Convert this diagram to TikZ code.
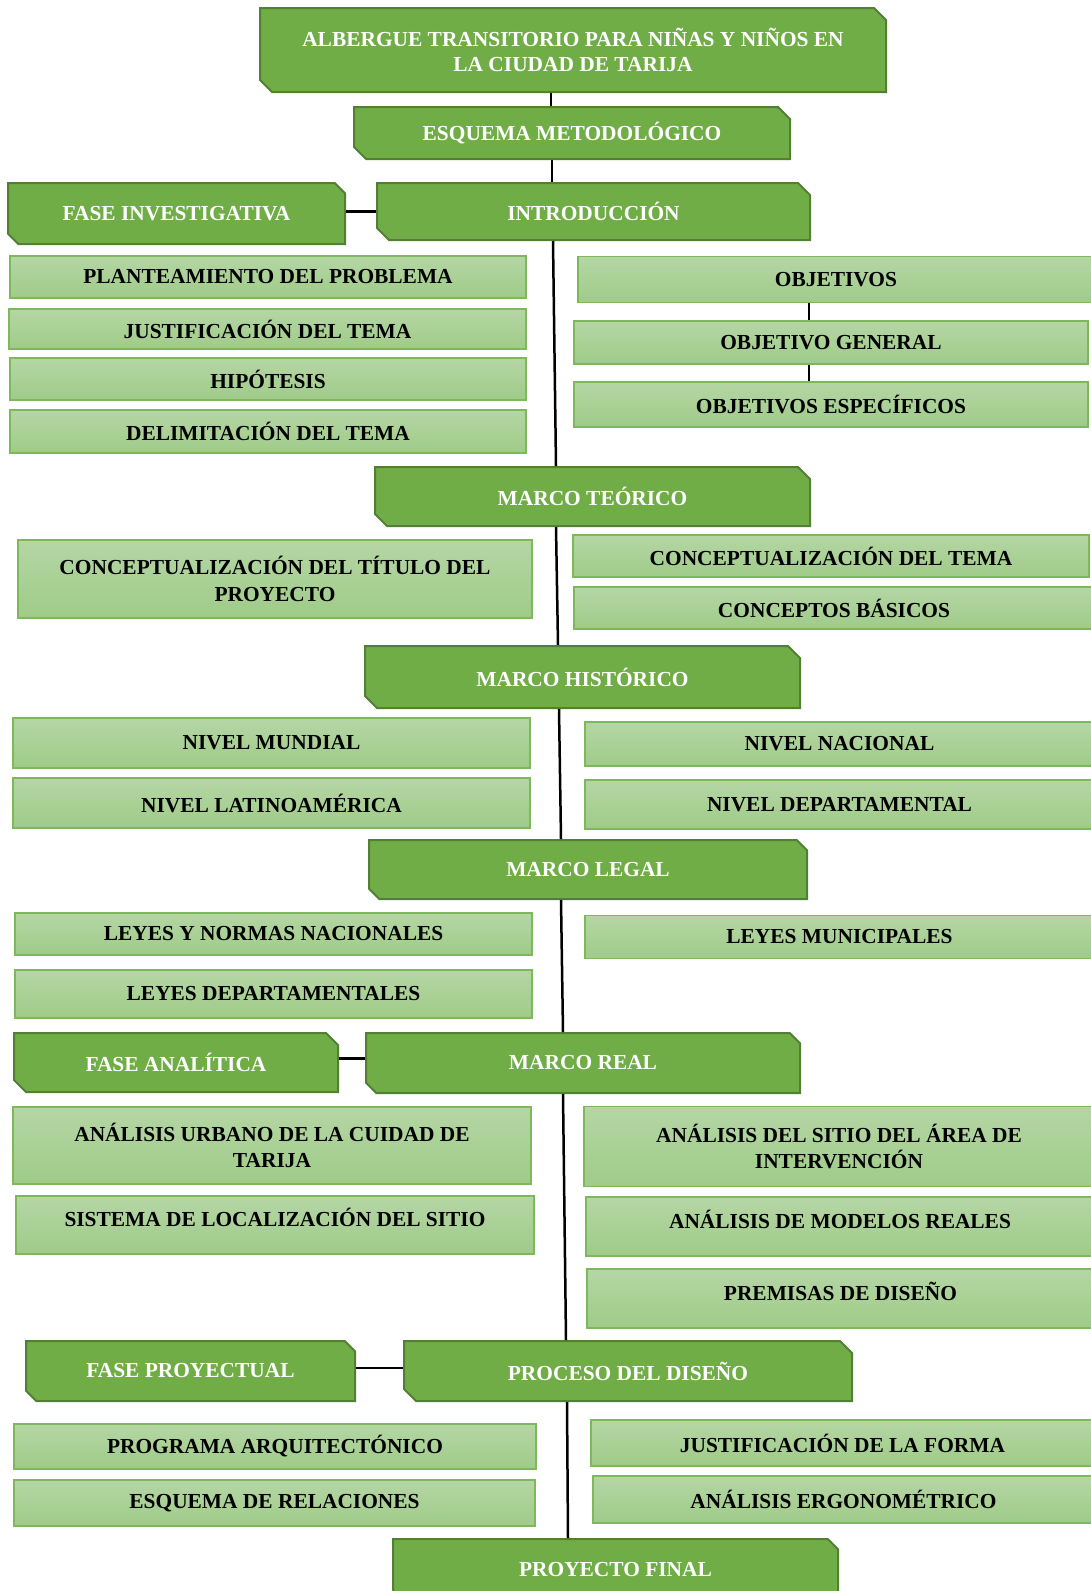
\documentclass[tikz,border=0pt]{standalone}
\usepackage{fontspec}
\setmainfont{Liberation Serif}
\usetikzlibrary{shapes.misc}

\definecolor{verde}{HTML}{70AD47}
\definecolor{verdeosc}{HTML}{517F33}
\definecolor{claroarr}{HTML}{B5D6A5}
\definecolor{claroab}{HTML}{9FCB88}
\definecolor{borde}{HTML}{7DB85B}

\tikzset{
	fase/.style={chamfered rectangle, chamfered rectangle corners={north east,south west},
		chamfered rectangle xsep=9pt, fill=verde, draw=verdeosc, line width=2pt,
		text=white, inner sep=0pt, align=center,
		font=\bfseries\fontsize{21.4}{25}\selectfont},
	tema/.style={rectangle, top color=claroarr, bottom color=claroab, draw=borde,
		line width=1.5pt, inner sep=0pt, align=center,
		font=\bfseries\fontsize{21.4}{26.5}\selectfont},
	linea/.style={line width=2.5pt, black}
}

\begin{document}
\begin{tikzpicture}[x=1pt, y=-1pt]
	\useasboundingbox (0,0) rectangle (1091,1591);

	% tronco
	\node[fase, minimum width=626pt, minimum height=84pt] (titulo) at (573,50) {ALBERGUE TRANSITORIO PARA NIÑAS Y NIÑOS EN\\LA CIUDAD DE TARIJA};
	\node[fase, minimum width=436pt, minimum height=52pt] (esquema) at (572,133) {ESQUEMA METODOLÓGICO};
	\node[fase, minimum width=337pt, minimum height=61pt] (finv) at (176.5,213.5) {FASE INVESTIGATIVA};
	\node[fase, minimum width=433pt, minimum height=57pt] (intro) at (593.5,211.5) {INTRODUCCIÓN};

	\node[tema, minimum width=516pt, minimum height=42pt] (plant) at (268,277) {PLANTEAMIENTO DEL PROBLEMA};
	\node[tema, minimum width=517pt, minimum height=40pt] (just) at (267.5,329) {JUSTIFICACIÓN DEL TEMA};
	\node[tema, minimum width=516pt, minimum height=42pt] (hipo) at (268,379) {HIPÓTESIS};
	\node[tema, minimum width=516pt, minimum height=43pt] (delim) at (268,431.5) {DELIMITACIÓN DEL TEMA};
	\node[tema, minimum width=516pt, minimum height=46pt] (obj) at (836,279.5) {OBJETIVOS};
	\node[tema, minimum width=514pt, minimum height=43pt] (objg) at (831,342.5) {OBJETIVO GENERAL};
	\node[tema, minimum width=514pt, minimum height=45pt] (obje) at (831,404.5) {OBJETIVOS ESPECÍFICOS};

	\node[fase, minimum width=435pt, minimum height=59pt] (teorico) at (592.5,496.5) {MARCO TEÓRICO};
	\node[tema, minimum width=514pt, minimum height=78pt] (ctitulo) at (275,579) {CONCEPTUALIZACIÓN DEL TÍTULO DEL\\PROYECTO};
	\node[tema, minimum width=516pt, minimum height=42pt] (ctema) at (831,556) {CONCEPTUALIZACIÓN DEL TEMA};
	\node[tema, minimum width=520pt, minimum height=42pt] (cbas) at (834,608) {CONCEPTOS BÁSICOS};

	\node[fase, minimum width=435pt, minimum height=62pt] (historico) at (582.5,677) {MARCO HISTÓRICO};
	\node[tema, minimum width=517pt, minimum height=50pt] (nmundial) at (271.5,743) {NIVEL MUNDIAL};
	\node[tema, minimum width=517pt, minimum height=50pt] (nlatino) at (271.5,803) {NIVEL LATINOAMÉRICA};
	\node[tema, minimum width=509pt, minimum height=44pt] (nnacional) at (839.5,744) {NIVEL NACIONAL};
	\node[tema, minimum width=509pt, minimum height=49pt] (ndepto) at (839.5,804.5) {NIVEL DEPARTAMENTAL};

	\node[fase, minimum width=438pt, minimum height=59pt] (legal) at (588,869.5) {MARCO LEGAL};
	\node[tema, minimum width=517pt, minimum height=42pt] (lnac) at (273.5,934) {LEYES Y NORMAS NACIONALES};
	\node[tema, minimum width=517pt, minimum height=48pt] (ldep) at (273.5,994) {LEYES DEPARTAMENTALES};
	\node[tema, minimum width=509pt, minimum height=43pt] (lmun) at (839.5,937) {LEYES MUNICIPALES};

	\node[fase, minimum width=324pt, minimum height=59pt] (fanal) at (176,1062.5) {FASE ANALÍTICA};
	\node[fase, minimum width=434pt, minimum height=60pt] (real) at (583,1063) {MARCO REAL};
	\node[tema, minimum width=518pt, minimum height=77pt] (aurb) at (272,1145.5) {ANÁLISIS URBANO DE LA CUIDAD DE\\TARIJA};
	\node[tema, minimum width=518pt, minimum height=58pt, text depth=15pt] (sisl) at (275,1225) {SISTEMA DE LOCALIZACIÓN DEL SITIO};
	\node[tema, minimum width=510pt, minimum height=80pt] (asitio) at (839,1146.5) {ANÁLISIS DEL SITIO DEL ÁREA DE\\INTERVENCIÓN};
	\node[tema, minimum width=508pt, minimum height=59pt, text depth=15pt] (amod) at (840,1226.5) {ANÁLISIS DE MODELOS REALES};
	\node[tema, minimum width=507pt, minimum height=59pt, text depth=15pt] (prem) at (840.5,1298.5) {PREMISAS DE DISEÑO};

	\node[fase, minimum width=329pt, minimum height=60pt] (fproy) at (190.5,1371) {FASE PROYECTUAL};
	\node[fase, minimum width=448pt, minimum height=60pt] (proceso) at (628,1371) {PROCESO DEL DISEÑO};
	\node[tema, minimum width=522pt, minimum height=45pt] (prog) at (275,1446.5) {PROGRAMA ARQUITECTÓNICO};
	\node[tema, minimum width=521pt, minimum height=46pt] (esqrel) at (274.5,1503) {ESQUEMA DE RELACIONES};
	\node[tema, minimum width=503pt, minimum height=46pt] (jforma) at (842.5,1443) {JUSTIFICACIÓN DE LA FORMA};
	\node[tema, minimum width=501pt, minimum height=47pt] (aergo) at (843.5,1499.5) {ANÁLISIS ERGONOMÉTRICO};
	\node[fase, minimum width=445pt, minimum height=61pt] (final) at (615.5,1569.5) {PROYECTO FINAL};

	% conectores
	\draw[linea] ([xshift=-22pt]titulo.south) -- ([xshift=-21pt]esquema.north);
	\draw[linea] ([xshift=-20pt]esquema.south) -- ([xshift=-41.5pt]intro.north);
	\draw[linea] ([xshift=-40.5pt]intro.south) -- ([xshift=-36.5pt]teorico.north);
	\draw[linea] ([xshift=-36.5pt]teorico.south) -- ([xshift=-24.5pt]historico.north);
	\draw[linea] ([xshift=-23.5pt]historico.south) -- ([xshift=-27pt]legal.north);
	\draw[linea] ([xshift=-27pt]legal.south) -- ([xshift=-20pt]real.north);
	\draw[linea] ([xshift=-20pt]real.south) -- ([xshift=-62pt]proceso.north);
	\draw[linea] ([xshift=-61pt]proceso.south) -- ([xshift=-47.5pt]final.north);

	\draw[linea] ([yshift=2pt]finv.east) -- ([yshift=2pt]finv.east -| intro.west);
	\draw[linea] ([yshift=4pt]fanal.east) -- ([yshift=4pt]fanal.east -| real.west);
	\draw[linea] ([yshift=3pt]fproy.east) -- ([yshift=3pt]fproy.east -| proceso.west);

	\draw[linea] ([xshift=-27pt]obj.south) -- ([xshift=-22pt]objg.north);
	\draw[linea] ([xshift=-22pt]objg.south) -- ([xshift=-22pt]obje.north);
\end{tikzpicture}
\end{document}
